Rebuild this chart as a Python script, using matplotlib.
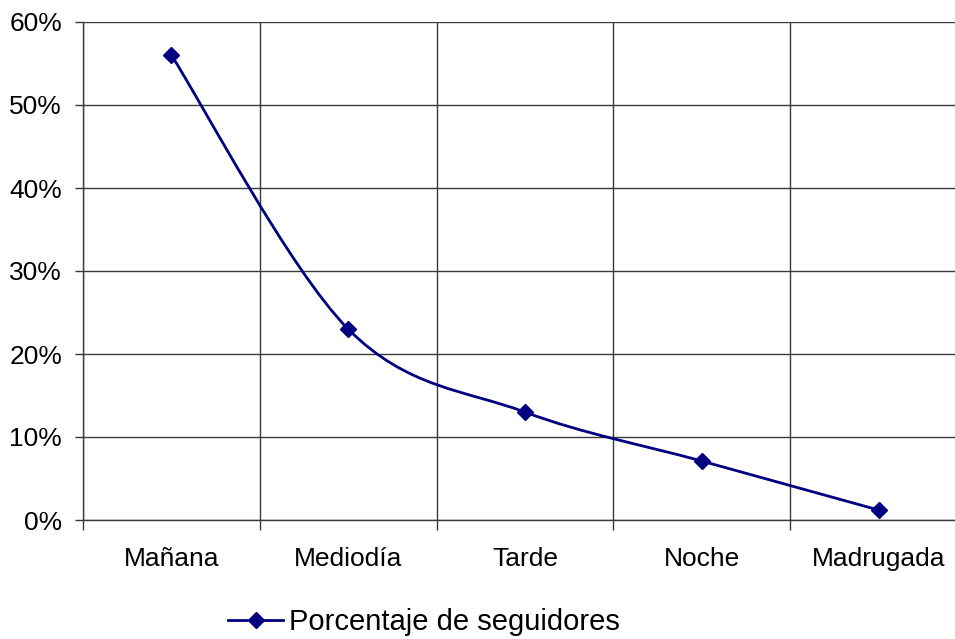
import matplotlib.pyplot as plt
from matplotlib.path import Path
from matplotlib.patches import PathPatch
from matplotlib.ticker import FixedLocator, PercentFormatter

plt.rcParams['font.family'] = ['Liberation Sans', 'DejaVu Sans']

categorias = ["Mañana", "Mediodía", "Tarde", "Noche", "Madrugada"]
porcentaje = [56, 23, 13, 7.1, 1.2]
serie = "Porcentaje de seguidores"

color = "#000080"
gris = "#3a3a3a"

fig = plt.figure(figsize=(9.55, 6.39), dpi=100)
ax = fig.add_axes([83 / 955, 1 - 520 / 639, 884 / 955, 498 / 639])

xs = [i + 0.5 for i in range(len(categorias))]

# smoothed line like Excel (Catmull-Rom as cubic bezier)
pts = list(zip(xs, porcentaje))
verts = [pts[0]]
codes = [Path.MOVETO]
for i in range(len(pts) - 1):
    p0 = pts[i - 1] if i > 0 else pts[i]
    p1 = pts[i]
    p2 = pts[i + 1]
    p3 = pts[i + 2] if i + 2 < len(pts) else pts[i + 1]
    c1 = (p1[0] + (p2[0] - p0[0]) / 6, p1[1] + (p2[1] - p0[1]) / 6)
    c2 = (p2[0] - (p3[0] - p1[0]) / 6, p2[1] - (p3[1] - p1[1]) / 6)
    verts += [c1, c2, p2]
    codes += [Path.CURVE4] * 3
ax.add_patch(PathPatch(Path(verts, codes), facecolor="none", edgecolor=color,
                       lw=2, zorder=3, clip_on=False))
ax.plot(xs, porcentaje, linestyle="none", marker="D", markersize=8.5,
        color=color, zorder=4, clip_on=False)

ax.set_xlim(0, len(categorias))
ax.set_ylim(0, 60)
ax.yaxis.set_major_locator(FixedLocator(range(0, 61, 10)))
ax.yaxis.set_major_formatter(PercentFormatter(decimals=0))
ax.xaxis.set_major_locator(FixedLocator(range(0, len(categorias) + 1)))
ax.xaxis.set_major_formatter(plt.NullFormatter())
ax.xaxis.set_minor_locator(FixedLocator(xs))
ax.set_xticklabels(categorias, minor=True)

ax.tick_params(axis="x", which="major", length=7, width=1, color=gris, direction="out")
ax.tick_params(axis="x", which="minor", length=0, pad=19.5, labelsize=19)
ax.tick_params(axis="y", length=6, width=1, color=gris, pad=9, labelsize=19)

ax.grid(True, which="major", color=gris, lw=1)
for s in ["top", "right"]:
    ax.spines[s].set_visible(False)
for s in ["left", "bottom"]:
    ax.spines[s].set_color(gris)
    ax.spines[s].set_linewidth(1)

fig.legend([plt.Line2D([], [], color=color, lw=2, marker="D", markersize=8.5)],
           [serie], loc="center left", bbox_to_anchor=(228 / 955, 1 - 622 / 639),
           frameon=False, fontsize=21, handlelength=1.9, handletextpad=0.2,
           borderaxespad=0, borderpad=0)

fig.savefig("out.png", dpi=100)
